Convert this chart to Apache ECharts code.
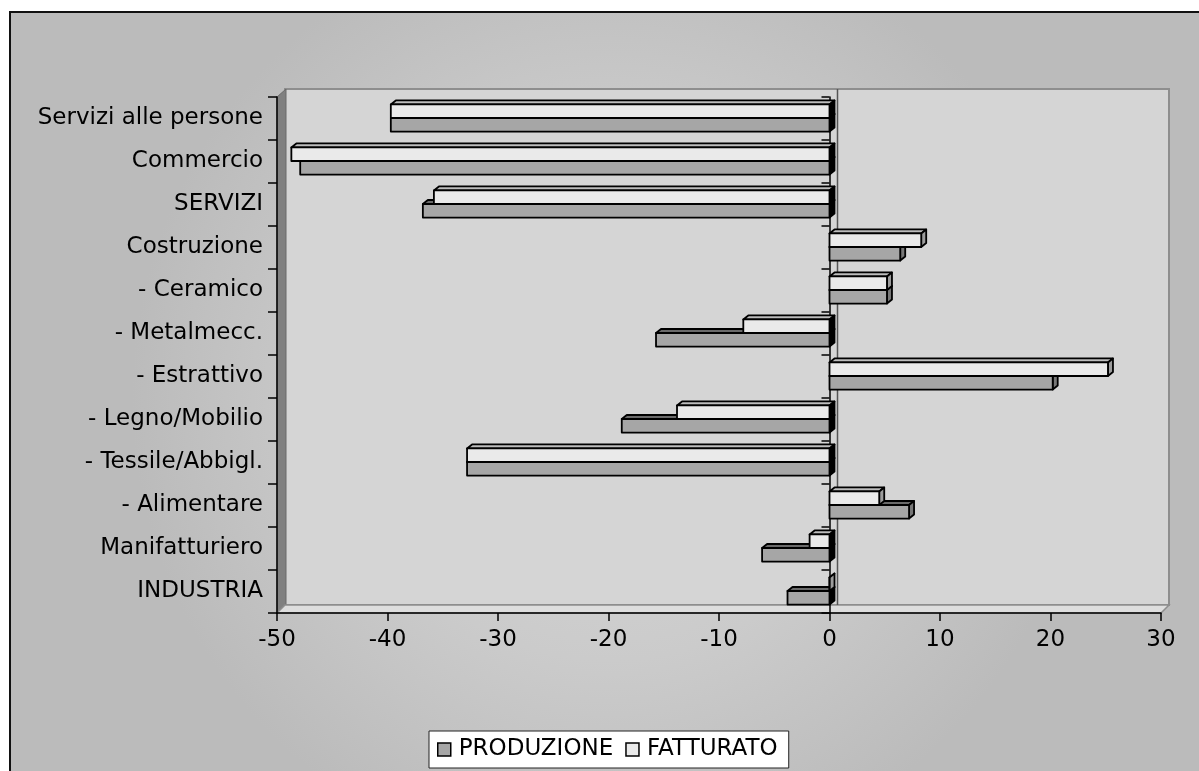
<!DOCTYPE html>
<html>
<head>
<meta charset="utf-8">
<script src="https://cdn.jsdelivr.net/npm/echarts@6/dist/echarts.min.js"></script>
<style>
html,body{margin:0;padding:0;background:#fff;}
#c{width:1199px;height:771px;}
</style>
</head>
<body>
<div id="c"></div>
<script>
var categories = ['INDUSTRIA','Manifatturiero','- Alimentare','- Tessile/Abbigl.','- Legno/Mobilio','- Estrattivo','- Metalmecc.','- Ceramico','Costruzione','SERVIZI','Commercio','Servizi alle persone'];
var produzione = [-3.8, -6.1, 7.2, -32.8, -18.8, 20.2, -15.7, 5.2, 6.4, -36.8, -47.9, -39.7];
var fatturato  = [0, -1.8, 4.5, -32.8, -13.8, 25.2, -7.8, 5.2, 8.3, -35.8, -48.7, -39.7];
var xTicks = {min: -50, max: 30, interval: 10};

var FONT = 'DejaVu Sans';
var DX = 5, DY = 4;
var palette = [
  {front:'#a6a6a6', top:'#6a6a6a', side:'#777777'},
  {front:'#eaeaea', top:'#bdbdbd', side:'#9c9c9c'}
];

function makeRender(si){
  return function(params, api){
    var val = api.value(0), cat = api.value(1);
    var p0 = api.coord([0, cat]);
    var p1 = api.coord([val, cat]);
    var band = api.size([0,1])[1];
    var h = band * 0.315;
    var mid = p0[1] - 0.5;
    var y0 = si === 0 ? mid : mid - h;
    var xl = Math.min(p0[0], p1[0]), xr = Math.max(p0[0], p1[0]);
    var c = palette[si];
    var st = {stroke:'#000', lineWidth:1.8, lineJoin:'round'};
    var sideFill = val < 0 ? '#000' : c.side;
    return {
      type:'group',
      children:[
        {type:'polygon', shape:{points:[[xl,y0],[xl+DX,y0-DY],[xr+DX,y0-DY],[xr,y0]]}, style:Object.assign({fill:c.top}, st)},
        {type:'polygon', shape:{points:[[xr,y0],[xr+DX,y0-DY],[xr+DX,y0+h-DY],[xr,y0+h]]}, style:Object.assign({fill:sideFill}, st)},
        {type:'rect', shape:{x:xl, y:y0, width:xr-xl, height:h}, style:Object.assign({fill:c.front}, st)}
      ]
    };
  };
}

function toData(arr){ return arr.map(function(v,i){ return [v, i]; }); }

var chart = echarts.init(document.getElementById('c'), null, {renderer:'canvas'});

var GL = 277, GR = 1161, GT = 97, GB = 613, OFF = 8;
var zeroX = GL + (0 - xTicks.min) / (xTicks.max - xTicks.min) * (GR - GL);

chart.setOption({
  animation:false,
  backgroundColor:'#ffffff',
  textStyle:{fontFamily:FONT},
  graphic:[
    {type:'rect', z:-20, shape:{x:10, y:12, width:1200, height:770},
     style:{fill:{type:'radial', x:0.5, y:0.5, r:0.62, colorStops:[{offset:0,color:'#d8d8d8'},{offset:0.55,color:'#cbcbcb'},{offset:1,color:'#bbbbbb'}]}, stroke:'#111', lineWidth:2}},
    {type:'rect', z:-10, shape:{x:GL+OFF, y:GT-OFF, width:GR-GL, height:GB-GT}, style:{fill:'#d5d5d5', stroke:'#8e8e8e', lineWidth:2}},
    {type:'polygon', z:-9, shape:{points:[[GL,GT],[GL+OFF+1,GT-OFF],[GL+OFF+1,GB-OFF],[GL,GB]]}, style:{fill:'#808080', stroke:'#6a6a6a', lineWidth:1}},
    {type:'polygon', z:-9, shape:{points:[[GL,GB],[GL+OFF,GB-OFF],[GR+OFF,GB-OFF],[GR,GB]]}, style:{fill:'#dedede', stroke:'#8e8e8e', lineWidth:1.5}},
    {type:'line', z:-8, shape:{x1:zeroX+OFF, y1:GT-OFF, x2:zeroX+OFF, y2:GB-OFF}, style:{stroke:'#555', lineWidth:1.5}}
  ],
  grid:{left:GL, right:1199-GR, top:GT, bottom:771-GB, containLabel:false},
  legend:{
    left:429, top:731,
    data:['PRODUZIONE','FATTURATO'],
    icon:'rect', itemWidth:13, itemHeight:13, itemGap:12,
    itemStyle:{borderColor:'#000', borderWidth:1.5},
    backgroundColor:'#ffffff', borderColor:'#222', borderWidth:1,
    padding:[7,11,7,8],
    textStyle:{fontFamily:FONT, fontSize:23, color:'#000', padding:[0,0,0,3]}
  },
  xAxis:{
    type:'value', min:xTicks.min, max:xTicks.max, interval:xTicks.interval,
    splitLine:{show:false},
    axisLine:{show:true, onZero:false, lineStyle:{color:'#000', width:1.5}},
    axisTick:{show:true, length:8, lineStyle:{color:'#000', width:1.5}},
    axisLabel:{fontFamily:FONT, fontSize:23, color:'#000', margin:16}
  },
  yAxis:[
    {type:'category', data:categories, position:'left',
     axisLine:{show:true, onZero:false, lineStyle:{color:'#000', width:1.5}},
     axisTick:{show:true, length:9, lineStyle:{color:'#000', width:1.5}},
     axisLabel:{fontFamily:FONT, fontSize:23, color:'#000', margin:14, padding:[7,0,0,0]},
     splitLine:{show:false}},
    {type:'category', data:categories, position:'left',
     axisLine:{show:true, onZero:true, lineStyle:{color:'#000', width:1.5}},
     axisTick:{show:true, length:8, lineStyle:{color:'#000', width:1.5}},
     axisLabel:{show:false},
     splitLine:{show:false}}
  ],
  series:[
    {name:'PRODUZIONE', type:'custom', yAxisIndex:0, itemStyle:{color:palette[0].front},
     renderItem:makeRender(0), encode:{x:0, y:1}, data:toData(produzione), z:3},
    {name:'FATTURATO', type:'custom', yAxisIndex:0, itemStyle:{color:palette[1].front},
     renderItem:makeRender(1), encode:{x:0, y:1}, data:toData(fatturato), z:4}
  ]
});
</script>
</body>
</html>
